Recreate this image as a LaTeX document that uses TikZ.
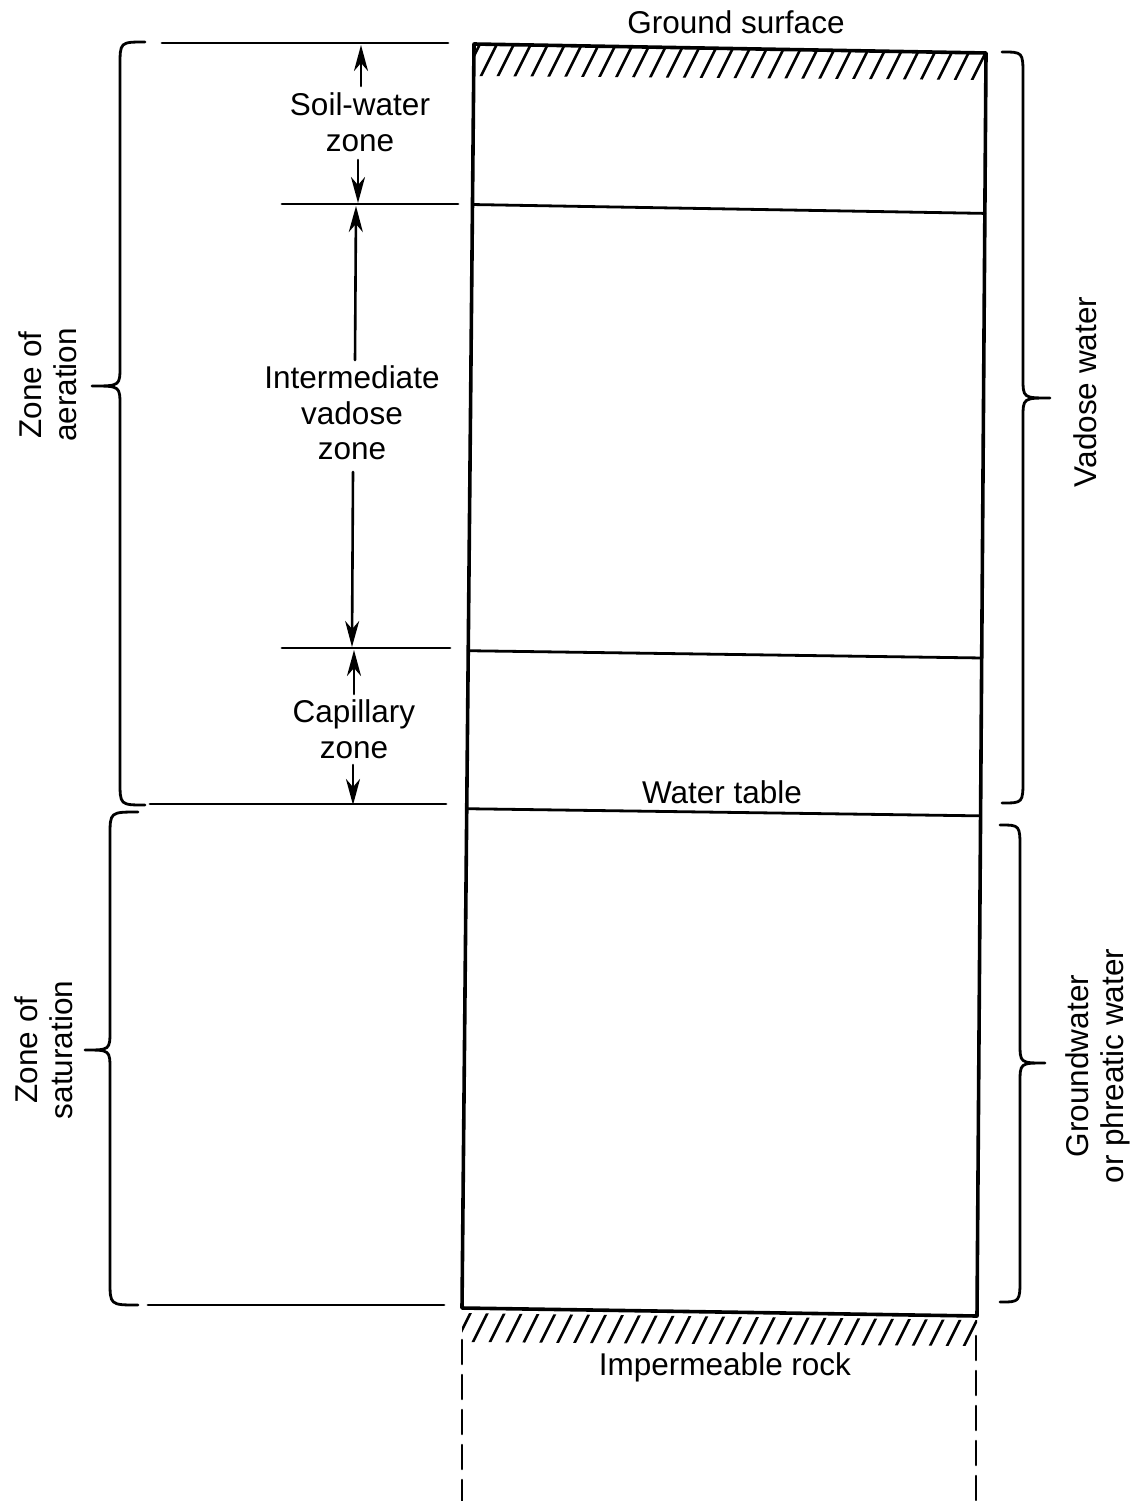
\documentclass[tikz,border=0pt]{standalone}
\usepackage{fontspec}
\setmainfont{Liberation Sans}
\usetikzlibrary{arrows.meta,calc}
\newcommand\zonebrace[6]{% xv, xend, xtip, ytop, ymid, ybot
  \draw[brc] (#2,#4) .. controls (#1,#4) .. (#1,#4+24) -- (#1,#5-20)
    .. controls (#1,#5) .. (#3,#5) .. controls (#1,#5) .. (#1,#5+20)
    -- (#1,#6-24) .. controls (#1,#6) .. (#2,#6);}
\begin{document}
\begin{tikzpicture}[x=1pt,y=-1pt,line cap=round,line join=round,
  lbl/.style={font=\fontsize{31.5}{35.5}\selectfont,align=center,inner sep=0pt},
  boxline/.style={line width=3.6pt},
  inner/.style={line width=2.8pt},
  tickline/.style={line width=2.8pt},
  hatchline/.style={line width=2.6pt},
  brc/.style={line width=2.8pt},
  arr/.style={line width=2.6pt,-{Stealth[length=26pt,width=14pt,inset=8pt]}},
  dashline/.style={line width=2.6pt,dash pattern=on 24pt off 11pt}]
\useasboundingbox (0,0) rectangle (1138,1501);
% box corners
\coordinate (TL) at (474,44);
\coordinate (TR) at (986,53);
\coordinate (BR) at (977,1316);
\coordinate (BL) at (462,1308);
% top hatching
\begin{scope}
  \clip (TL) -- (TR) -- ($(TR)+(0,27)$) -- ($(TL)+(0,32)$) -- cycle;
  \foreach \x in {430,447,...,1010} \draw[hatchline] (\x,110) -- (\x+35,40);
\end{scope}
% bottom hatching
\begin{scope}
  \clip ($(BL)+(0,5)$) -- ($(BR)+(0,4)$) -- (977,1346) -- (462,1342) -- cycle;
  \foreach \x in {420,437,...,1000} \draw[hatchline] (\x,1380) -- (\x+35,1310);
\end{scope}
% box
\draw[boxline] (TL) -- (TR) -- (BR) -- (BL) -- cycle;
\draw[inner] ($(TL)!0.127!(BL)$) -- ($(TR)!0.127!(BR)$);
\draw[inner] ($(TL)!0.480!(BL)$) -- ($(TR)!0.479!(BR)$);
\draw[inner] ($(TL)!0.605!(BL)$) -- ($(TR)!0.604!(BR)$);
% dashed continuation
\coordinate (dl1) at (462,1340); \coordinate (dl2) at (462,1501);
\coordinate (dr1) at (976,1336); \coordinate (dr2) at (976,1501);
\draw[dashline] (dl1) -- (dl2);
\draw[dashline] (dr1) -- (dr2);
% left tick lines
\draw[tickline] (162,43) -- (448,43);
\draw[tickline] (282,204) -- (458,204);
\draw[tickline] (282,648) -- (450,648);
\draw[tickline] (150,804) -- (446,804);
\draw[tickline] (148,1305) -- (444,1305);
% labels
\node[lbl] (gs) at (736,22) {Ground surface};
\node[lbl] (sw) at (360,122) {Soil-water\\zone};
\node[lbl] (iv) at (352,413) {Intermediate\\vadose\\zone};
\node[lbl] (cz) at (354,729) {Capillary\\zone};
\node[lbl] (wt) at (722,792) {Water table};
\node[lbl] (ir) at (725,1367) {Impermeable rock};
\node[lbl,rotate=90] (za) at (48,385) {Zone of\\aeration};
\node[lbl,rotate=90] (zs) at (44,1050) {Zone of\\saturation};
\node[lbl,rotate=90] (vw) at (1085,392) {Vadose water};
\node[lbl,rotate=90] (gw) at (1098,1066) {Groundwater\\or phreatic water};
% dimension arrows
\draw[arr] (361,86) -- (361,45);
\draw[arr] (358,160) -- (358,203);
\draw[arr] (355,360) -- (356,206);
\draw[arr] (353,472) -- (352,647);
\draw[arr] (354,694) -- (354,650);
\draw[arr] (353,765) -- (353,805);
% braces
\zonebrace{120}{145}{92}{42}{386}{805}
\zonebrace{110}{138}{85}{812}{1050}{1305}
\zonebrace{1023}{1002}{1050}{52}{398}{803}
\zonebrace{1020}{1000}{1045}{825}{1063}{1302}
\end{tikzpicture}
\end{document}
